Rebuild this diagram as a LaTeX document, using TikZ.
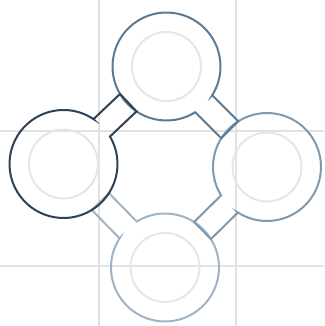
\documentclass[tikz,border=0pt]{standalone}
\begin{document}
\begin{tikzpicture}[x=1pt,y=1pt,
  gridline/.style={draw=gridgray, line width=2.4pt},
  innerring/.style={draw=innergray, line width=2pt},
  gearshape/.style={line width=2pt, line join=miter}]
\definecolor{gridgray}{HTML}{E2E2E2}
\definecolor{innergray}{HTML}{E2E7EB}
\definecolor{cleft}{HTML}{2E4253}
\definecolor{ctop}{HTML}{5C7A93}
\definecolor{cright}{HTML}{8099AD}
\definecolor{cbottom}{HTML}{A0B3C4}
\useasboundingbox (0,0) rectangle (324,-326);
% grid
\draw[gridline] (99,0) -- (99,-326);
\draw[gridline] (236,0) -- (236,-326);
\draw[gridline] (0,-131) -- (324,-131);
\draw[gridline] (0,-266) -- (324,-266);
% centres
\coordinate (L) at (63.5,-164);
\coordinate (T) at (166.5,-66.5);
\coordinate (R) at (267,-167);
\coordinate (B) at (165,-267.5);
% inner rings
\draw[innerring] (L) circle[radius=34.5];
\draw[innerring] (T) circle[radius=34.5];
\draw[innerring] (R) circle[radius=34.5];
\draw[innerring] (B) circle[radius=34.5];
% bottom shape (band to left)
\begin{scope}[shift={(B)}, rotate=134.44]
\draw[gearshape, draw=cbottom] (52.65,12) -- (92.31,12) -- (92.31,-12) -- (52.65,-12)
  arc[start angle=-12.84, end angle=-347.16, radius=54] -- cycle;
\end{scope}
% right shape (band to bottom)
\begin{scope}[shift={(R)}, rotate=-135.42]
\draw[gearshape, draw=cright] (52.65,12) -- (90.55,12) -- (90.55,-12) -- (52.65,-12)
  arc[start angle=-12.84, end angle=-347.16, radius=54] -- cycle;
\end{scope}
% top shape (band to right)
\begin{scope}[shift={(T)}, rotate=-45]
\draw[gearshape, draw=ctop] (52.65,12) -- (89.48,12) -- (89.48,-12) -- (52.65,-12)
  arc[start angle=-12.84, end angle=-347.16, radius=54] -- cycle;
\end{scope}
% left shape (band to top)
\begin{scope}[shift={(L)}, rotate=43.43]
\draw[gearshape, draw=cleft] (52.65,12) -- (89.18,12) -- (89.18,-12) -- (52.65,-12)
  arc[start angle=-12.84, end angle=-347.16, radius=54] -- cycle;
\end{scope}
\end{tikzpicture}
\end{document}
